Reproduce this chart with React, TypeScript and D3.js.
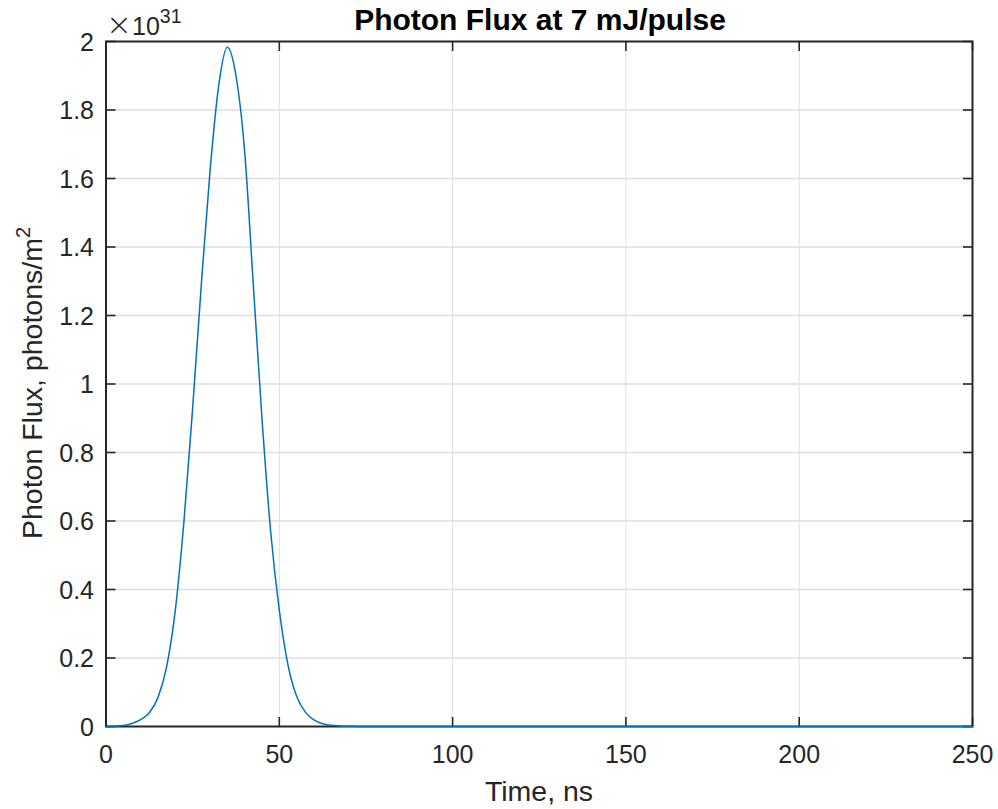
import React from "react";
import * as d3 from "d3";

const timeNs = [0, 2.5, 5, 7.5, 10, 12.5, 15, 17.5, 20, 22.5, 25, 27.5, 30, 32.5, 35, 37.5, 40, 42.5, 45, 47.5, 50, 52.5, 55, 57.5, 60, 62.5, 65, 67.5, 70, 75, 80, 100, 150, 200, 250];
const fluxE31 = [0.0, 0.001, 0.003, 0.009, 0.02, 0.04, 0.085, 0.175, 0.34, 0.6, 0.93, 1.29, 1.62, 1.87, 1.983, 1.9, 1.68, 1.29, 0.9, 0.57, 0.34, 0.18, 0.088, 0.042, 0.019, 0.008, 0.0035, 0.0014, 0.0005, 0.0001, 0, 0, 0, 0, 0];
const xTicks = [0, 50, 100, 150, 200, 250];
const yTicks = [0, 0.2, 0.4, 0.6, 0.8, 1, 1.2, 1.4, 1.6, 1.8, 2];
const yTickLabels = ["0", "0.2", "0.4", "0.6", "0.8", "1", "1.2", "1.4", "1.6", "1.8", "2"];

const W = 998;
const H = 809;
const L = 106, R = 972.5, T = 41.5, B = 726.5;
const AX = "#262626";
const FONT = "'Liberation Sans', Arial, Helvetica, sans-serif";

export default function App() {
  const x = d3.scaleLinear().domain([0, 250]).range([L, R]);
  const y = d3.scaleLinear().domain([0, 2]).range([B, T]);
  const pts = timeNs.map((t, i) => [t, fluxE31[i]] as [number, number]);
  const line = d3
    .line<[number, number]>()
    .x((d) => x(d[0]))
    .y((d) => y(d[1]))
    .curve(d3.curveMonotoneX);
  const tl = 9.5;
  return (
    <svg width={W} height={H} style={{ position: "absolute", left: 0, top: 0, background: "#fff" }} fontFamily={FONT}>
      <rect x={0} y={0} width={W} height={H} fill="#fff" />
      {/* grid */}
      {xTicks.slice(1, -1).map((t) => (
        <line key={"gx" + t} x1={x(t)} x2={x(t)} y1={T} y2={B} stroke="#dfdfdf" strokeWidth={1} />
      ))}
      {yTicks.slice(1, -1).map((t) => (
        <line key={"gy" + t} x1={L} x2={R} y1={y(t)} y2={y(t)} stroke="#dfdfdf" strokeWidth={1.3} />
      ))}
      {/* ticks */}
      {xTicks.map((t) => (
        <g key={"tx" + t}>
          <line x1={x(t)} x2={x(t)} y1={B} y2={B - tl} stroke={AX} strokeWidth={1.6} />
          <line x1={x(t)} x2={x(t)} y1={T} y2={T + tl} stroke={AX} strokeWidth={1.6} />
          <text x={x(t)} y={763} textAnchor="middle" fontSize={25} fill={AX}>
            {t}
          </text>
        </g>
      ))}
      {yTicks.map((t, i) => (
        <g key={"ty" + t}>
          <line x1={L} x2={L + tl} y1={y(t)} y2={y(t)} stroke={AX} strokeWidth={1.6} />
          <line x1={R} x2={R - tl} y1={y(t)} y2={y(t)} stroke={AX} strokeWidth={1.6} />
          <text x={94} y={y(t) + 9} textAnchor="end" fontSize={25} fill={AX}>
            {yTickLabels[i]}
          </text>
        </g>
      ))}
      {/* box */}
      <rect x={L} y={T} width={R - L} height={B - T} fill="none" stroke={AX} strokeWidth={2} />
      {/* data */}
      <path d={line(pts) || ""} fill="none" stroke="#0072BD" strokeWidth={1.5} />
      {/* exponent */}
      <text x={106} y={35} fontSize={25} fill={AX}>
        <tspan fontSize={31} fontFamily="'DejaVu Sans', sans-serif" fontWeight="200">×</tspan>
        <tspan>10</tspan>
        <tspan fontSize={19.5} dy={-12}>31</tspan>
      </text>
      {/* title */}
      <text x={540} y={30} textAnchor="middle" fontSize={30} fontWeight="bold" fill="#000">
        Photon Flux at 7 mJ/pulse
      </text>
      {/* x label */}
      <text x={539} y={801} textAnchor="middle" fontSize={28.5} fill={AX}>
        Time, ns
      </text>
      {/* y label */}
      <text transform={`translate(41.5, 383) rotate(-90)`} textAnchor="middle" fontSize={28.5} fill={AX}>
        Photon Flux, photons/m<tspan fontSize={20} dy={-12}>2</tspan>
      </text>
    </svg>
  );
}
